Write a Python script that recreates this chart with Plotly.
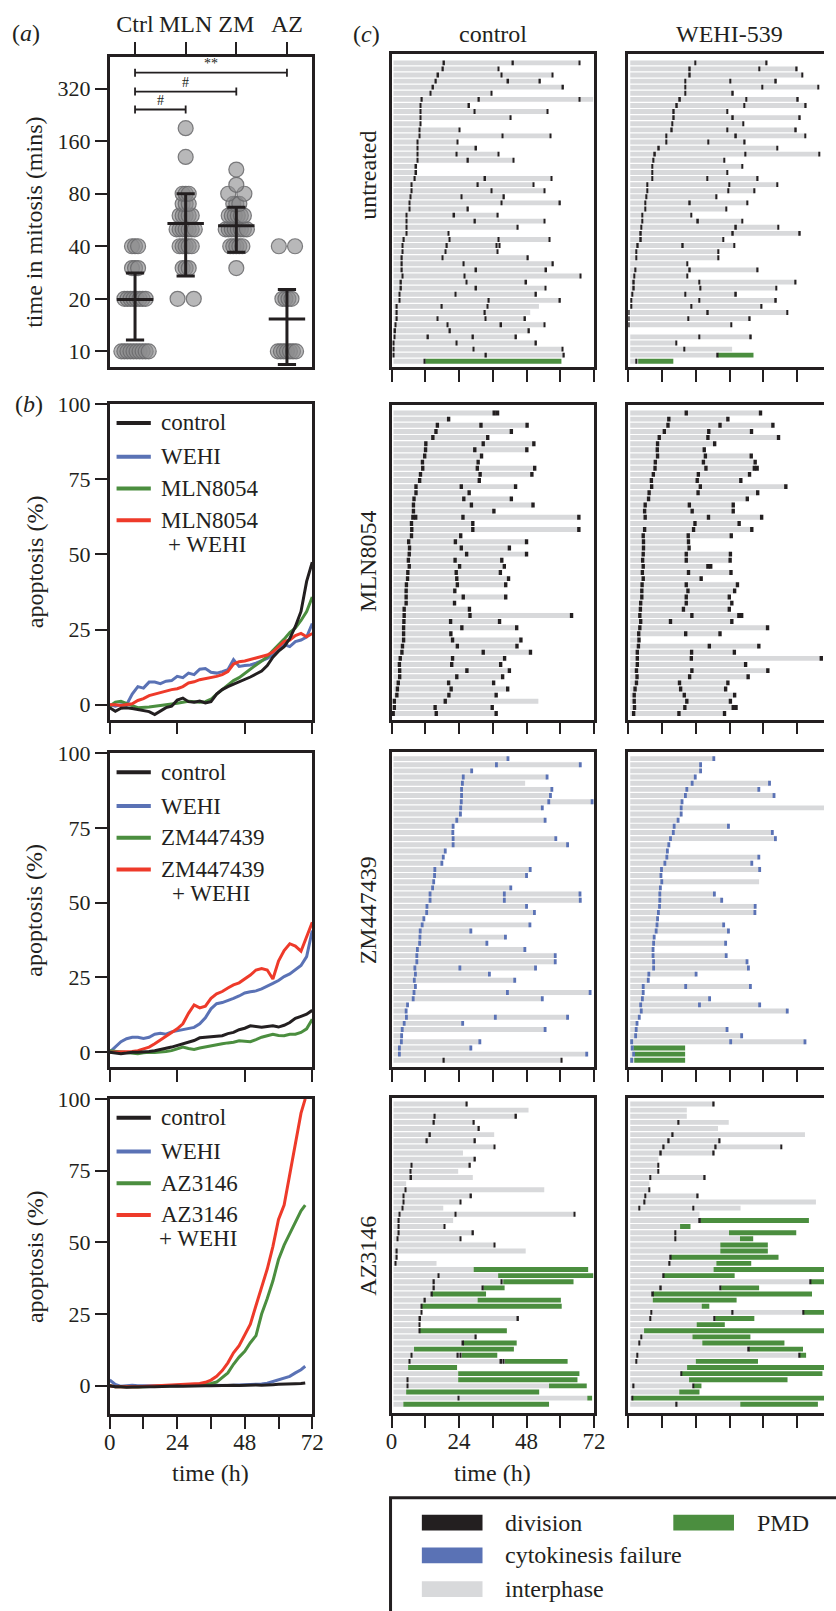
import numpy as np
import plotly.graph_objects as go

W, H = 836, 1611
INK = "#231f20"
GRAY_BAR = "#d8d9db"
GREEN = "#4b8e3f"
BLUE = "#5a72b5"
RED = "#ee3a2a"
FONT = "Liberation Serif"

# ---------------- panel (a): time in mitosis ----------------
a_groups = ["Ctrl", "MLN", "ZM", "AZ"]
a_ctrl = [10, 10, 10, 10, 10, 10, 10, 10, 10, 10, 20, 20, 20, 20, 20, 20, 20, 20,
          30, 30, 30, 40, 40, 40]
a_mln = [20, 20, 30, 30, 30, 40, 40, 40, 40, 40, 50, 50, 50, 50, 50, 50, 50,
         60, 60, 60, 60, 60, 70, 70, 70, 80, 80, 80, 130, 190]
a_zm = [30, 40, 40, 40, 40, 40, 50, 50, 50, 50, 50, 50, 50, 50, 60, 60, 60, 60, 60, 60,
        70, 70, 70, 80, 80, 90, 110]
a_az = [10, 10, 10, 10, 10, 10, 10, 20, 20, 20, 20, 40, 40]
a_mean = [19.8, 54, 52.5, 15.3]
a_low = [11.6, 27, 37, 8.4]
a_high = [28.1, 80, 67, 22.6]
a_yticks = [10, 20, 40, 80, 160, 320]
a_sig_pairs = [(0, 3), (0, 2), (0, 1)]
a_sig_text = ["**", "#", "#"]
a_sig_y = [395, 308, 243]

# ---------------- panel (b): apoptosis curves ----------------
b_t = [0, 2, 4, 6, 8, 10, 12, 14, 16, 18, 20, 22, 24, 26, 28, 30, 32, 34, 36,
       38, 40, 42, 44, 46, 48, 50, 52, 54, 56, 58, 60, 62, 64, 66, 68, 70, 72]
b1_control = [-1, -2.2, -1.2, -1, -1.3, -1.6, -2, -2.3, -3.3, -2, -1, -0.5, 1.5, 2.2, 1, 0.8,
              1.2, 0.6, 1, 3.5, 5, 6, 6.8, 7.7, 8.3, 9.2, 10.2, 11.2, 13, 15.8, 17.8, 19.3,
              22, 26, 31, 41, 47.4]
b1_wehi = [0, -0.5, 0, 0, 3.5, 6, 5.5, 7.5, 7.5, 7, 7.8, 8, 9.4, 9, 10.5, 10, 11.8, 12,
           10.8, 10.5, 11, 11.6, 15, 12.7, 13, 13.2, 13.8, 14.5, 15.4, 16.5, 18, 20, 19.3,
           21, 21.5, 22.5, 27]
b1_drug = [-0.5, 0.8, 1.1, 0.3, -0.3, -1, -1, -0.8, -0.5, -0.3, 0, 0.2, 0.5, 0.8, 1.1, 1,
           0.8, 1, 1.8, 3.5, 5, 6.6, 8, 9, 10.5, 12, 13.2, 14.5, 16, 18, 19.8, 21.8, 24,
           25.5, 28, 31, 35.8]
b1_combo = [0, 0, -0.3, 0, 0.3, 1.4, 2, 3, 3.5, 4, 4.6, 5, 5.3, 6, 7.2, 7.6, 8.3, 8.6, 9,
            9.4, 10, 11, 13.5, 14.3, 14.5, 14.9, 15.5, 16, 16.5, 17.5, 19.3, 21, 21.5, 23,
            23.7, 22.6, 23.7]
b2_control = [0, -0.3, -0.5, -0.3, 0, 0, 0, 0.2, 0.5, 1, 1.3, 1.7, 2.3, 2.8, 3.4, 3.9, 4.8,
              5, 5, 5.2, 5.5, 6.2, 6.6, 7.5, 8, 8.8, 8.5, 8.3, 8.6, 8.8, 8.4, 9, 9.9, 11.3,
              12, 12.7, 14]
b2_wehi = [0, 1.8, 3.5, 4.5, 5, 5, 4.6, 5, 6, 6.3, 6, 6.8, 7.2, 7.5, 7.9, 8.3, 9.5, 11.5,
           14.5, 16.2, 16.6, 17.2, 18, 18.8, 19.8, 20.2, 20.5, 21.2, 22, 23, 24, 25.3, 26.2,
           27.7, 29, 32, 40.7]
b2_drug = [0.5, 0.3, 0, -0.2, -0.4, -0.5, -0.2, 0, -0.1, 0, 0.2, 0.5, 1.2, 1.7, 1.2, 0.9,
           1.4, 1.8, 2.2, 2.5, 2.8, 3.1, 3.3, 3.8, 3.7, 3.5, 4.2, 5, 5.5, 6, 5.6, 5.5, 6, 6,
           6.6, 7.8, 11]
b2_combo = [0, 0, 0, 0, 0.2, 0.5, 1, 1.7, 2.8, 4, 5.3, 6.5, 7.8, 9.5, 13, 15.8, 14.8, 15.4,
            18, 19.5, 20.3, 21.5, 22.5, 23.2, 24.5, 25.8, 27.5, 28, 27.5, 24.5, 30.5, 34,
            36.3, 35.5, 33.8, 39, 43.5]
b_t3 = [0, 2, 4, 6, 8, 10, 12, 14, 16, 18, 20, 22, 24, 26, 28, 30, 32, 34, 36,
        38, 40, 42, 44, 46, 48, 50, 52, 54, 56, 58, 60, 62, 64, 66, 68, 69.5]
b3_control = [0, -0.3, -0.3, -0.5, -0.4, -0.3, -0.4, -0.3, -0.3, -0.2, -0.3, -0.2, -0.1,
              -0.2, -0.1, 0, -0.1, 0, 0, 0.1, 0, 0.1, 0.2, 0.1, 0.2, 0.3, 0.3, 0.2, 0.4,
              0.4, 0.5, 0.5, 0.6, 0.7, 0.8, 1]
b3_wehi = [2, 0.5, -0.2, 0, 0.2, 0, -0.1, 0, 0, -0.1, 0, 0, 0.1, 0, 0.1, 0.1, 0, 0.1, 0.2,
           0.1, 0.2, 0.1, 0.2, 0.3, 0.2, 0.3, 0.5, 0.6, 0.9, 1.5, 2, 2.5, 3.3, 4.5, 5.6, 6.8]
b3_drug = [0, -0.3, -0.3, -0.4, -0.3, -0.4, -0.3, -0.2, -0.2, -0.1, -0.1, 0, 0, 0.1, 0.2,
           0.3, 0.5, 0.6, 0.8, 1.3, 2.8, 4.5, 7.5, 10, 12, 15, 17.5, 25, 30.4, 36.5, 44, 49,
           53, 57, 61, 63]
b3_combo = [0, -0.3, -0.3, -0.4, -0.3, -0.3, -0.2, -0.1, 0, 0, 0.1, 0.2, 0.3, 0.4, 0.4,
            0.5, 0.8, 1.2, 2, 3.3, 5.3, 8, 11.5, 14, 18, 21.5, 28, 34, 40.7, 48.5, 58, 63,
            74, 85, 95, 100]
b_drug_names = ["MLN8054", "ZM447439", "AZ3146"]

# ---------------- panel (c): single-cell fates ----------------
# each row: (end of track [h], event times [h], optional PMD start [h])
unt_ctrl = [
    (66.8, [18.7, 43.2, 66.8]), (38.0, [18.3, 38.0]), (57.2, [16.6, 39.1, 57.2]),
    (52.8, [15.8, 41.5, 52.8]), (61.0, [14.8, 61.0]), (35.6, [13.8, 35.6]),
    (71.7, [10.8, 31.1, 66.9]), (27.6, [10.3, 27.6]), (55.4, [10.3, 29.6, 55.4]),
    (42.4, [10.3, 42.4]), (10.3, [10.3]), (24.1, [9.9, 24.1]), (56.6, [9.9, 39.4, 56.6]),
    (23.5, [9.3, 23.5]), (30.1, [9.3, 30.1]), (38.0, [9.3, 23.2, 38.0]),
    (43.4, [9.3, 27.2, 43.4]), (8.8, [8.8]), (8.8, [8.8]), (56.8, [8.3, 33.3, 56.8]),
    (50.4, [7.2, 30.7, 50.4]), (54.4, [7.2, 35.6, 54.4]), (40.0, [6.7, 24.9, 40.0]),
    (59.9, [6.4, 39.1, 59.9]), (27.2, [6.4, 27.2]), (37.8, [5.4, 22.3, 37.8]),
    (54.4, [5.3, 29.7, 54.4]), (44.9, [5.3, 44.9]), (20.3, [5.3, 20.3]),
    (56.1, [4.4, 20.6, 38.0, 56.1]), (38.6, [3.9, 19.7, 37.3, 38.4]),
    (37.7, [3.9, 19.2, 37.7]), (48.5, [3.7, 18.2, 48.5]), (57.4, [3.7, 25.7, 57.4]),
    (55.0, [3.7, 30.1, 55.0]), (67.2, [3.9, 25.9, 67.2]), (47.9, [3.4, 26.7, 47.9]),
    (54.8, [3.4, 30.1, 54.8]), (51.4, [2.9, 22.7, 51.4]), (59.9, [2.9, 34.6, 59.9]),
    (52.4, [1.9, 17.9, 34.2]), (49.3, [1.9, 33.2]), (47.5, [1.9, 16.3, 33.4, 47.5]),
    (54.4, [1.5, 19.9, 39.0, 54.4]), (48.9, [1.3, 20.8, 48.9]),
    (44.3, [1.0, 13.0, 29.0, 44.3]), (51.4, [0.8, 23.2, 51.4]), (60.8, [0.8, 29.1, 60.8]),
    (61.3, [0.8, 33.6, 61.3]), (60.4, [11.8], 12.0),
]
unt_wehi = [
    (49.2, [23.8, 49.2]), (59.9, [21.9, 46.5, 59.9]), (61.9, [21.9, 61.9]),
    (52.5, [20.3, 36.3, 52.5]), (67.5, [20.3, 47.7, 67.5]), (37.2, [20.2, 37.2]),
    (60.3, [18.4, 42.0, 60.3]), (63.1, [17.3, 41.3, 63.1]), (35.2, [16.2, 35.2]),
    (61.0, [16.2, 37.2, 61.0]), (40.8, [15.7, 40.8]), (59.6, [15.5, 35.2, 59.6]),
    (63.0, [13.6, 38.3, 63.0]), (41.4, [13.6, 28.5, 41.4]), (53.0, [10.9, 53.0]),
    (67.9, [9.5, 41.7, 67.9]), (34.2, [9.0, 34.2]), (40.5, [8.5, 40.5]),
    (35.2, [8.5, 35.2]), (46.0, [8.5, 28.1, 46.0]), (53.0, [6.7, 35.9, 53.0]),
    (44.9, [6.7, 35.6, 44.9]), (31.4, [6.5, 31.4]), (42.4, [6.0, 21.9, 42.4]),
    (34.9, [6.0, 34.9]), (22.4, [5.0, 22.4]), (40.5, [5.0, 24.8, 40.5]),
    (53.3, [4.6, 38.3, 53.3]), (61.0, [4.5, 37.2, 61.0]), (33.7, [4.5, 33.7]),
    (37.7, [3.4, 19.4, 37.7]), (32.1, [2.9, 32.1]), (32.1, [2.9, 32.1]), (21.0, [21.0]),
    (46.0, [2.6, 21.9, 46.0]), (20.9, [2.2, 20.9]), (59.5, [2.0, 25.3, 59.5]),
    (52.6, [2.0, 25.7, 52.6]), (38.3, [1.5, 20.2, 38.3]), (52.5, [1.0, 25.3, 52.5]),
    (47.4, [1.0, 22.5, 47.4]), (56.5, [0.2, 28.3, 56.5]), (43.2, [0.2, 21.3, 43.2]),
    (36.6, [0.2, 36.6]), (0.0, []), (43.6, [25.3, 43.6]), (17.0, [17.0]),
    (36.9, [19.9]), (44.5, [31.8], 31.9), (16.0, [2.9], 3.5),
]
mln_ctrl = [
    (37.2, [36.5, 37.7]), (20.3, [20.3]), (48.2, [16.3, 31.8, 48.2]), (42.6, [15.8, 42.6]),
    (34.2, [14.7, 34.2]), (50.6, [12.2, 32.6, 50.6]), (48.1, [12.1, 29.6, 48.1]),
    (32.0, [11.8, 32.0]), (30.8, [11.0, 30.8]), (50.9, [11.1, 30.5, 50.9]),
    (49.9, [10.3, 31.5, 49.9]), (31.2, [10.0, 31.2]), (44.1, [8.7, 24.8, 44.1]),
    (27.6, [8.7, 27.6]), (42.6, [8.0, 25.7, 42.6]), (50.3, [7.8, 28.4, 50.3]),
    (36.4, [7.8, 36.4]), (66.6, [7.6, 8.6, 25.4, 66.6]), (28.9, [7.1, 28.9]),
    (66.6, [7.2, 28.9, 66.6]), (24.6, [7.1, 24.6]), (48.0, [6.1, 22.7, 48.0]),
    (41.9, [6.4, 24.8, 41.9]), (48.0, [6.3, 26.7, 48.0]), (39.2, [6.0, 22.6, 39.2]),
    (40.1, [6.3, 24.2, 40.1]), (38.7, [5.8, 23.0, 38.7]), (41.6, [5.7, 23.2, 41.6]),
    (40.6, [5.3, 23.4, 40.6]), (22.5, [5.2, 22.5]), (40.6, [5.2, 25.5, 40.6]),
    (22.4, [5.2, 22.4]), (27.7, [4.5, 27.7]), (64.0, [4.5, 27.9, 64.0]),
    (38.4, [4.4, 21.0, 38.4]), (44.5, [4.3, 25.0, 44.5]), (21.1, [4.3, 21.1]),
    (46.0, [4.3, 21.7, 46.0]), (44.6, [3.9, 23.4, 44.6]), (49.4, [3.7, 32.6, 49.4]),
    (40.2, [3.1, 21.7, 40.2]), (38.8, [2.8, 21.4, 38.8]), (41.9, [2.9, 26.8, 41.9]),
    (39.5, [2.9, 23.2, 39.5]), (36.3, [2.4, 20.3, 36.3]), (41.3, [2.1, 21.2, 41.3]),
    (37.2, [1.9, 20.4, 37.2]), (52.2, [1.0, 19.1]), (35.8, [1.0, 15.5, 35.8]),
    (37.2, [0.6, 15.9, 37.2]),
]
mln_wehi = [
    (47.0, [20.6, 47.0]), (35.4, [14.4, 35.4]), (51.4, [14.1, 32.6, 51.4]),
    (43.8, [12.8, 28.6, 43.8]), (53.4, [11.0, 28.3, 53.4]), (30.7, [10.4, 30.7]),
    (27.0, [10.3, 27.0]), (43.7, [10.4, 27.4, 43.7]), (45.1, [9.6, 26.7, 45.1]),
    (45.8, [9.5, 27.6, 44.8, 45.8]), (43.1, [8.9, 24.9, 43.1]), (40.0, [8.2, 24.5, 40.0]),
    (56.0, [8.3, 25.6, 56.0]), (46.0, [7.4, 24.8, 46.0]), (42.3, [7.2, 42.3]),
    (37.3, [6.0, 21.7, 37.3]), (37.3, [5.8, 22.7, 37.3]), (47.4, [6.0, 28.5, 47.4]),
    (39.4, [23.7, 39.4]), (43.9, [5.8, 23.2, 43.9]), (36.6, [5.3, 21.3, 36.6]),
    (21.4, [5.4, 21.4]), (21.6, [5.4, 21.6]), (36.3, [5.3, 20.6, 36.3]),
    (36.2, [5.1, 20.6, 36.2]), (29.3, [5.3, 28.3, 29.3]), (36.5, [5.0, 21.4, 36.5]),
    (25.9, [5.3, 25.9]), (38.8, [4.9, 20.6, 38.8]), (37.8, [4.8, 21.2, 37.8]),
    (35.9, [4.8, 20.6, 35.9]), (36.8, [4.4, 20.6, 36.8]), (35.9, [4.3, 19.6, 35.9]),
    (40.3, [4.1, 22.6, 39.3, 40.3]), (36.8, [4.4, 15.0, 36.8]), (49.5, [4.1, 49.5]),
    (32.6, [3.7, 20.4, 32.6]), (3.8, [3.8]), (46.4, [3.6, 28.8, 46.4]),
    (37.7, [3.2, 22.5, 37.7]), (68.6, [3.2, 22.4, 68.6]), (41.7, [3.2, 41.7]),
    (49.6, [2.9, 22.6, 49.6]), (42.6, [3.1, 21.8, 42.6]), (35.4, [2.9, 18.2, 35.4]),
    (34.6, [2.4, 18.6, 34.6]), (37.8, [2.1, 19.9, 37.8]), (36.3, [2.1, 20.8, 36.3]),
    (38.3, [2.2, 20.1, 37.3, 38.3]), (34.2, [1.9, 18.0, 34.2]),
]
zm_ctrl = [
    (41.4, [41.4]), (67.1, [37.3, 67.1]), (28.5, [28.5]), (55.3, [25.5, 55.3]),
    (47.5, [25.2]), (57.0, [24.9, 57.0]), (56.5, [24.9, 56.5]), (71.7, [24.8, 55.9, 71.3]),
    (53.6, [24.6, 53.6]), (24.5, [24.5]), (54.6, [23.2, 54.6]), (21.9, [21.9]),
    (21.8, [21.8]), (58.4, [21.9, 58.4]), (62.6, [21.9, 62.6]), (19.1, [19.1]),
    (18.4, [18.4]), (17.9, [17.9]), (49.3, [15.4, 49.3]), (48.0, [15.3, 48.0]),
    (15.0, [15.0]), (42.4, [14.6, 42.4]), (67.0, [13.7, 40.1, 67.0]),
    (67.1, [13.7, 40.1, 67.1]), (48.0, [12.6, 48.0]), (50.8, [12.5, 50.8]), (11.5, [11.5]),
    (49.2, [10.9, 49.2]), (28.2, [10.2, 28.2]), (40.5, [10.1, 40.5]), (33.9, [10.0, 33.9]),
    (47.4, [9.2, 47.4]), (58.2, [9.0, 58.2]), (58.2, [9.0, 58.2]),
    (51.2, [8.3, 24.3, 51.2]), (34.8, [8.5, 34.8]), (43.8, [8.1, 43.8]), (8.5, [8.5]),
    (70.6, [8.0, 41.2, 70.6]), (53.6, [7.7, 53.6]), (5.7, [5.7]), (5.2, [5.2]),
    (62.6, [5.3, 36.9, 62.6]), (25.3, [4.5, 25.3]), (54.6, [3.8, 54.6]), (3.6, [3.6]),
    (31.4, [3.5, 31.4]), (28.2, [2.8, 28.2]), (69.4, [2.8, 69.4]), (60.5, []),
]
zm_ctrl_division = {49: [18.6, 60.5]}
zm_wehi = [
    (30.4, [30.4]), (25.7, [25.7]), (25.7, [25.7]), (23.8, [23.8]), (50.2, [22.7, 50.2]),
    (46.4, [20.8, 46.4]), (51.8, [20.3, 51.8]), (19.1, [19.1]), (72.0, [18.8]),
    (18.8, [18.8]), (17.7, [17.7]), (35.6, [16.3, 35.6]), (51.2, [16.0, 51.2]),
    (52.3, [15.0, 52.3]), (14.4, [14.4]), (13.9, [13.9]), (46.4, [13.7, 46.4]),
    (43.9, [13.0, 43.9]), (46.7, [11.8, 46.7]), (11.6, [11.6]), (46.5, [11.9]),
    (11.4, [11.4]), (30.6, [11.2, 30.6]), (33.2, [11.2, 33.2]), (45.1, [11.1, 45.1]),
    (45.0, [10.7, 45.0]), (10.4, [10.4]), (33.9, [10.2, 33.9]), (35.6, [9.9, 35.6]),
    (9.2, [9.2]), (34.6, [9.0, 34.6]), (8.8, [8.8]), (34.8, [8.8, 34.8]),
    (42.2, [9.0, 42.2]), (42.7, [9.0, 42.7]), (24.1, [7.3, 24.1]), (7.1, [7.1]),
    (43.4, [5.3, 20.4, 43.4]), (5.3, [5.3]), (28.9, [5.0, 28.9]), (46.7, [4.4, 25.3, 46.7]),
    (56.5, [4.6, 56.5]), (3.9, [3.9]), (3.1, [3.1]), (35.1, [2.8, 35.1]),
    (40.3, [2.6, 40.3]), (62.8, [1.2, 36.4, 62.8]), (20.2, [1.4], 1.8),
    (20.2, [1.9], 2.3), (20.2, [1.2], 2.1),
]
az_ctrl = [
    (26.8, [26.8]), (48.7, []), (44.3, [15.4, 44.3]), (29.3, [15.1, 29.3]), (31.1, [31.1]),
    (36.5, [13.7]), (29.7, [12.6, 29.7]), (36.6, [36.6]), (25.4, []), (29.7, [29.7]),
    (27.9, [7.1, 27.9]), (23.7, [6.7]), (28.9, [7.0]), (5.2, []), (54.3, [5.0]),
    (28.3, [4.3, 28.3]), (24.5, [4.3, 24.5]), (18.4, [3.9]), (65.0, [2.9, 22.7, 65.0]),
    (21.9, [2.6]), (18.9, [2.6, 18.9]), (29.0, [2.6, 29.0]), (24.5, [2.2, 24.5]),
    (36.6, [36.6]), (47.7, [1.9]), (1.9, [1.9]), (16.0, [1.5]), (69.9, [], 29.2),
    (71.7, [16.8], 37.9), (64.7, [15.1, 39.2], 39.7), (40.2, [15.1, 32.5], 32.7),
    (33.6, [14.4], 14.4), (60.2, [11.9], 30.6), (60.5, [10.6], 10.6), (10.6, [10.6]),
    (45.0, [10.2, 45.0]), (9.9, [9.9]), (41.0, [9.9], 9.9), (30.0, [30.0]),
    (44.5, [25.5], 25.5), (43.5, [], 8.0), (37.6, [7.1, 23.6, 24.6], 25.0),
    (62.6, [6.4, 39.0, 39.8], 40.3), (23.3, [], 5.9), (66.8, [], 23.7),
    (66.1, [5.7], 23.7), (69.4, [5.7], 56.0), (52.5, [], 5.2), (71.3, [23.8], 69.6),
    (56.0, [], 4.2),
]
az_wehi = [
    (30.4, [30.4]), (20.8, []), (20.8, []), (35.7, [17.9]), (31.9, []), (62.8, [15.8]),
    (32.5, [14.4, 32.5]), (54.4, [12.6, 31.1, 54.4]), (30.4, [11.6, 30.4]), (10.7, []),
    (10.6, [10.6]), (10.6, [10.6]), (27.2, [7.8, 27.2]), (7.5, []), (7.4, [7.4]),
    (24.7, [6.0, 24.7]), (66.7, [5.8]), (39.9, [3.9, 23.1]), (25.3, []),
    (64.2, [25.5], 25.7), (22.1, [], 18.4), (59.7, [16.8], 35.8), (44.4, [16.8], 39.7),
    (49.6, [], 32.7), (49.6, [], 32.7), (53.4, [15.1], 15.1), (43.7, [14.7], 31.3),
    (72.0, [], 30.3), (37.8, [12.6], 12.6), (72.0, [64.8], 64.9),
    (46.5, [11.6, 32.8], 33.0), (65.3, [8.8], 8.8), (38.5, [], 8.7), (28.8, [], 26.1),
    (72.0, [8.1, 37.1, 62.3], 62.4), (44.8, [7.8, 30.7], 30.9), (34.3, [], 24.3),
    (72.0, [], 5.6), (43.4, [4.6], 22.8), (55.5, [3.9], 26.3), (62.1, [42.9], 43.0),
    (63.2, [3.2, 60.9], 61.0), (46.1, [2.9], 24.0), (72.0, [], 20.9),
    (69.0, [18.9], 18.9), (56.6, [], 21.6), (26.0, [1.9, 23.1], 23.3), (25.3, [], 18.1),
    (72.0, [1.5], 1.5), (67.4, [17.2], 39.8),
]
c_row_names = ["untreated", "MLN8054", "ZM447439", "AZ3146"]
c_col_names = ["control", "WEHI-539"]
c_time_ticks = [0, 12, 24, 36, 48, 60, 72]
c_tick_text = ["0", "", "24", "", "48", "", "72"]
legend_items = ["division", "cytokinesis failure", "interphase", "PMD"]

# ---------------- layout helpers ----------------
TRACK_START = 0.7
PX_PER_H = 2.875


def xd(l, r):
    return [l / W, min(r / W, 1.0)]


def yd(t, b):
    return [1 - b / H, 1 - t / H]


def px(x):
    return x / W


def py(y):
    return 1 - y / H


tickfont = dict(family=FONT, size=22, color=INK)
base_ax = dict(showline=True, linewidth=2.5, linecolor=INK, mirror=True, ticks="outside",
               ticklen=12, tickwidth=2, tickcolor=INK, showgrid=False, zeroline=False,
               tickfont=tickfont, fixedrange=True)

layout = dict(width=W, height=H, margin=dict(l=0, r=0, t=0, b=0), paper_bgcolor="white",
              plot_bgcolor="white", showlegend=False, barmode="overlay",
              font=dict(family=FONT, color=INK))
traces = []
annotations = []
shapes = []


def ann(x, y, text, size=24, **kw):
    d = dict(x=px(x), y=py(y), xref="paper", yref="paper", text=text, showarrow=False,
             xanchor="center", yanchor="middle",
             font=dict(family=FONT, size=size, color=INK))
    d.update(kw)
    annotations.append(d)


# ---------------- panel (a) ----------------
layout["xaxis"] = dict(base_ax, domain=xd(106, 313), range=[-0.5, 3.5], side="top",
                       tickvals=[0, 1, 2, 3], ticktext=a_groups, anchor="y",
                       tickfont=dict(family=FONT, size=24, color=INK))
layout["yaxis"] = dict(base_ax, domain=yd(45, 358), type="log",
                       range=[np.log10(8.1), np.log10(488)], tickvals=a_yticks,
                       ticktext=[str(v) for v in a_yticks], anchor="x")

ax_x, ax_y = [], []
for gi, vals in enumerate([a_ctrl, a_mln, a_zm, a_az]):
    arr = np.array(vals, float)
    for v in np.unique(arr):
        n = int((arr == v).sum())
        if n == 1:
            offs = np.array([0.0])
        else:
            s = 0.16 if n == 2 else min(0.27, 0.03 * (n - 1))
            offs = np.linspace(-s, s, n)
        ax_x += list(gi + offs)
        ax_y += [v] * n
traces.append(go.Scatter(x=ax_x, y=ax_y, mode="markers", xaxis="x", yaxis="y",
                         marker=dict(size=15, color="rgba(140,140,142,0.62)",
                                     line=dict(color="rgba(105,105,107,0.85)", width=1.2)),
                         cliponaxis=False))
eb_x, eb_y = [], []
for i, (m, lo, hi) in enumerate(zip(a_mean, a_low, a_high)):
    eb_x += [i, i, None, i - 0.18, i + 0.18, None, i - 0.18, i + 0.18, None,
             i - 0.36, i + 0.36, None]
    eb_y += [lo, hi, None, lo, lo, None, hi, hi, None, m, m, None]
traces.append(go.Scatter(x=eb_x, y=eb_y, mode="lines", xaxis="x", yaxis="y",
                         line=dict(color=INK, width=3), cliponaxis=False))
br_x, br_y = [], []
for (g0, g1), lab, yv in zip(a_sig_pairs, a_sig_text, a_sig_y):
    c = 1.055
    br_x += [g0, g0, None, g0, g1, None, g1, g1, None]
    br_y += [yv / c, yv * c, None, yv, yv, None, yv / c, yv * c, None]
    annotations.append(dict(x=(g0 + g1) / 2, y=np.log10(yv), xref="x", yref="y", text=lab,
                            showarrow=False, xanchor="center", yanchor="bottom", yshift=0,
                            font=dict(family=FONT, size=14, color=INK)))
traces.append(go.Scatter(x=br_x, y=br_y, mode="lines", xaxis="x", yaxis="y",
                         line=dict(color=INK, width=1.8)))
ann(20, 21, "(<i>a</i>)")
ann(29, 212, "time in mitosis (mins)", textangle=-90)

# ---------------- panel (b) ----------------
b_tops = [395, 747, 1095]
b_bottoms = [713, 1063, 1413]
b_yranges = [[-5, 100], [-5, 100], [-10, 100]]
b_series = [
    (b_t, b1_control, b1_wehi, b1_drug, b1_combo),
    (b_t, b2_control, b2_wehi, b2_drug, b2_combo),
    (b_t3, b3_control, b3_wehi, b3_drug, b3_combo),
]
combo_center = [205, 209, 196]
for k in range(3):
    n = k + 2
    xa, ya = f"x{n}", f"y{n}"
    xax = dict(base_ax, domain=xd(106, 313), range=[0, 72], anchor=ya)
    if k < 2:
        xax.update(tickvals=[0, 24, 48, 72], showticklabels=False)
    else:
        xax.update(tickvals=c_time_ticks, ticktext=c_tick_text, ticklabelstandoff=-7,
                   tickfont=dict(family=FONT, size=23, color=INK))
    layout[f"xaxis{n}"] = xax
    layout[f"yaxis{n}"] = dict(base_ax, domain=yd(b_tops[k], b_bottoms[k]),
                               range=b_yranges[k], tickvals=[0, 25, 50, 75, 100], anchor=xa)
    t, ctl, weh, drg, cmb = b_series[k]
    for ys, col in [(weh, BLUE), (drg, GREEN), (cmb, RED), (ctl, INK)]:
        traces.append(go.Scatter(x=t, y=ys, mode="lines", xaxis=xa, yaxis=ya,
                                 line=dict(color=col, width=3)))
    T = b_tops[k]
    names = ["control", "WEHI", b_drug_names[k], b_drug_names[k]]
    cols = [INK, BLUE, GREEN, RED]
    offs = [19, 53, 85, 117]
    for nm, col, o in zip(names, cols, offs):
        shapes.append(dict(type="line", xref="paper", yref="paper", x0=px(113), x1=px(148),
                           y0=py(T + o), y1=py(T + o), line=dict(color=col, width=4)))
        ann(156, T + o, nm, size=23, xanchor="left")
    ann(combo_center[k], T + 141, "+ WEHI", size=23)
    ann(29, (T + b_bottoms[k]) / 2, "apoptosis (%)", textangle=-90)
ann(24, 395, "(<i>b</i>)")
ann(209.5, 1472, "time (h)")

# ---------------- panel (c) ----------------
c_tops = [42, 396, 746, 1094]
c_bottoms = [358, 713, 1063, 1412]
c_yranges = [[50.0, -1.5], [50.0, -1.3], [50.1, -1.0], [50.5, -1.0]]
c_data = [(unt_ctrl, unt_wehi), (mln_ctrl, mln_wehi), (zm_ctrl, zm_wehi), (az_ctrl, az_wehi)]
c_mark_color = [INK, INK, BLUE, INK]
c_mark_w = [0.55, 1.2, 1.0, 0.55]
c_label_y = [165, 554, 905, 1253]


def bars(base, length, rows, color, xa, ya):
    if not base:
        return
    traces.append(go.Bar(x=length, base=base, y=rows, orientation="h", width=0.8,
                         marker=dict(color=color, line=dict(width=0)), xaxis=xa, yaxis=ya))


axis_id = 5
for r in range(4):
    for ccol in range(2):
        n = axis_id
        axis_id += 1
        xa, ya = f"x{n}", f"y{n}"
        if ccol == 0:
            dom = xd(394, 601)
            xr = [0, 72]
        else:
            dom = xd(636, 836)
            xr = [0, (836 - 636) / PX_PER_H]
        xax = dict(base_ax, domain=dom, range=xr, anchor=ya, tickvals=c_time_ticks)
        if r == 3 and ccol == 0:
            xax.update(ticktext=c_tick_text, ticklabelstandoff=-7,
                       tickfont=dict(family=FONT, size=23, color=INK))
        else:
            xax.update(showticklabels=False)
        layout[f"xaxis{n}"] = xax
        layout[f"yaxis{n}"] = dict(base_ax, domain=yd(c_tops[r], c_bottoms[r]),
                                   range=c_yranges[r], ticks="", showticklabels=False,
                                   mirror=(ccol == 0), anchor=xa)
        rows = c_data[r][ccol]
        g_b, g_l, g_y, p_b, p_l, p_y, m_b, m_l, m_y = [], [], [], [], [], [], [], [], []
        w = c_mark_w[r]
        for i, row in enumerate(rows):
            end, marks = row[0], row[1]
            pmd = row[2] if len(row) > 2 else None
            g_end = pmd if pmd is not None else end
            if g_end > TRACK_START:
                g_b.append(TRACK_START)
                g_l.append(g_end - TRACK_START)
                g_y.append(i)
            if pmd is not None:
                p_b.append(pmd)
                p_l.append(end - pmd)
                p_y.append(i)
            for tm in marks:
                m_b.append(tm - w / 2)
                m_l.append(w)
                m_y.append(i)
        bars(g_b, g_l, g_y, GRAY_BAR, xa, ya)
        bars(p_b, p_l, p_y, GREEN, xa, ya)
        bars(m_b, m_l, m_y, c_mark_color[r], xa, ya)
        if r == 2 and ccol == 0:
            d_b, d_l, d_y = [], [], []
            for i, tms in zm_ctrl_division.items():
                for tm in tms:
                    d_b.append(tm - 0.3)
                    d_l.append(0.6)
                    d_y.append(i)
            bars(d_b, d_l, d_y, INK, xa, ya)
    ann(370, c_label_y[r], c_row_names[r], textangle=-90)

ann(368, 22, "(<i>c</i>)")
ann(497.5, 22, c_col_names[0])
ann(739.5, 22, c_col_names[1])
ann(497.5, 1472, "time (h)")

# bottom legend for (c)
shapes.append(dict(type="rect", xref="paper", yref="paper", x0=px(393), x1=1.05,
                   y0=-0.05, y1=py(1497), line=dict(color=INK, width=3)))
leg_colors = [INK, BLUE, GRAY_BAR, GREEN]
leg_pos = [(425, 1522), (425, 1555), (425, 1589), (682, 1522)]
for nm, col, (lx, ly) in zip(legend_items, leg_colors, leg_pos):
    shapes.append(dict(type="rect", xref="paper", yref="paper", x0=px(lx), x1=px(lx + 62),
                       y0=py(ly + 8), y1=py(ly - 8), fillcolor=col, line=dict(width=0)))
    ann(lx + 83, ly, nm, xanchor="left")

layout["annotations"] = annotations
layout["shapes"] = shapes
fig = go.Figure(data=traces, layout=layout)
fig.write_html("out.html", config={"displayModeBar": False},
               post_script="document.body.style.margin='0px';"
                           "document.body.style.overflow='hidden';")
